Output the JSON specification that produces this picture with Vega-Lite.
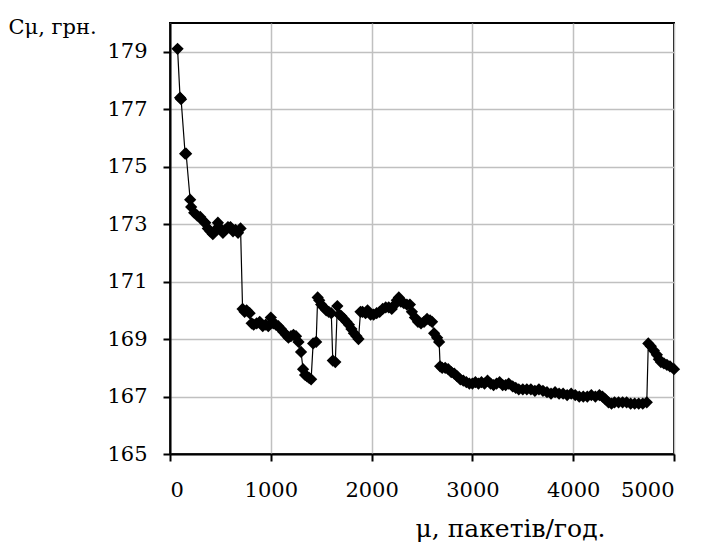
{
  "$schema": "https://vega.github.io/schema/vega-lite/v6.json",
  "width": 504,
  "height": 431,
  "autosize": "none",
  "padding": {"left": 170, "top": 23, "right": 29, "bottom": 95},
  "background": "white",
  "config": {
    "view": {"stroke": "black", "strokeWidth": 2},
    "font": "DejaVu Serif",
    "axis": {"labelFont": "DejaVu Serif", "titleFont": "DejaVu Serif"}
  },
  "data": {"values": [
    {"mu": 75, "C": 179.1}, {"mu": 100, "C": 177.4}, {"mu": 110, "C": 177.35}, {"mu": 150, "C": 175.45}, {"mu": 160, "C": 175.45},
    {"mu": 200, "C": 173.85}, {"mu": 210, "C": 173.6}, {"mu": 240, "C": 173.4}, {"mu": 270, "C": 173.3}, {"mu": 300, "C": 173.25},
    {"mu": 330, "C": 173.1}, {"mu": 350, "C": 173.05}, {"mu": 375, "C": 172.85}, {"mu": 400, "C": 172.75}, {"mu": 425, "C": 172.65},
    {"mu": 450, "C": 172.8}, {"mu": 475, "C": 173.05}, {"mu": 500, "C": 172.85}, {"mu": 525, "C": 172.7}, {"mu": 550, "C": 172.8},
    {"mu": 575, "C": 172.9}, {"mu": 600, "C": 172.9}, {"mu": 625, "C": 172.75}, {"mu": 650, "C": 172.8}, {"mu": 675, "C": 172.7},
    {"mu": 700, "C": 172.85}, {"mu": 720, "C": 170.05}, {"mu": 740, "C": 169.95}, {"mu": 760, "C": 170.0}, {"mu": 790, "C": 169.9},
    {"mu": 810, "C": 169.55}, {"mu": 830, "C": 169.5}, {"mu": 860, "C": 169.55}, {"mu": 890, "C": 169.6}, {"mu": 920, "C": 169.45},
    {"mu": 950, "C": 169.5}, {"mu": 975, "C": 169.45}, {"mu": 1000, "C": 169.75}, {"mu": 1025, "C": 169.55}, {"mu": 1050, "C": 169.5},
    {"mu": 1075, "C": 169.45}, {"mu": 1100, "C": 169.35}, {"mu": 1125, "C": 169.25}, {"mu": 1150, "C": 169.15}, {"mu": 1175, "C": 169.05},
    {"mu": 1200, "C": 169.1}, {"mu": 1225, "C": 169.15}, {"mu": 1250, "C": 169.1}, {"mu": 1275, "C": 168.9}, {"mu": 1300, "C": 168.55},
    {"mu": 1320, "C": 167.95}, {"mu": 1340, "C": 167.75}, {"mu": 1360, "C": 167.7}, {"mu": 1380, "C": 167.65}, {"mu": 1400, "C": 167.6},
    {"mu": 1420, "C": 168.85}, {"mu": 1450, "C": 168.9}, {"mu": 1465, "C": 170.45}, {"mu": 1480, "C": 170.35}, {"mu": 1500, "C": 170.2},
    {"mu": 1525, "C": 170.1}, {"mu": 1550, "C": 170.0}, {"mu": 1575, "C": 169.95}, {"mu": 1600, "C": 169.9}, {"mu": 1615, "C": 168.25},
    {"mu": 1640, "C": 168.2}, {"mu": 1660, "C": 170.15}, {"mu": 1680, "C": 169.85}, {"mu": 1700, "C": 169.8}, {"mu": 1725, "C": 169.7},
    {"mu": 1750, "C": 169.6}, {"mu": 1775, "C": 169.5}, {"mu": 1800, "C": 169.35}, {"mu": 1825, "C": 169.2}, {"mu": 1850, "C": 169.1},
    {"mu": 1870, "C": 169.0}, {"mu": 1890, "C": 169.95}, {"mu": 1910, "C": 169.95}, {"mu": 1940, "C": 169.9}, {"mu": 1960, "C": 170.0},
    {"mu": 1990, "C": 169.85}, {"mu": 2020, "C": 169.85}, {"mu": 2050, "C": 169.9}, {"mu": 2080, "C": 169.95}, {"mu": 2110, "C": 170.05},
    {"mu": 2140, "C": 170.1}, {"mu": 2170, "C": 170.1}, {"mu": 2200, "C": 170.05}, {"mu": 2230, "C": 170.2}, {"mu": 2250, "C": 170.35},
    {"mu": 2270, "C": 170.45}, {"mu": 2290, "C": 170.3}, {"mu": 2320, "C": 170.25}, {"mu": 2350, "C": 170.2}, {"mu": 2380, "C": 170.2},
    {"mu": 2400, "C": 169.95}, {"mu": 2430, "C": 169.75}, {"mu": 2460, "C": 169.6}, {"mu": 2490, "C": 169.55}, {"mu": 2520, "C": 169.6},
    {"mu": 2550, "C": 169.7}, {"mu": 2580, "C": 169.65}, {"mu": 2600, "C": 169.6}, {"mu": 2620, "C": 169.2}, {"mu": 2650, "C": 169.05},
    {"mu": 2670, "C": 168.9}, {"mu": 2680, "C": 168.05}, {"mu": 2700, "C": 168.0}, {"mu": 2730, "C": 168.0}, {"mu": 2760, "C": 167.95},
    {"mu": 2790, "C": 167.85}, {"mu": 2820, "C": 167.8}, {"mu": 2850, "C": 167.7}, {"mu": 2880, "C": 167.6}, {"mu": 2910, "C": 167.55},
    {"mu": 2940, "C": 167.5}, {"mu": 2970, "C": 167.45}, {"mu": 3000, "C": 167.45}, {"mu": 3030, "C": 167.5}, {"mu": 3060, "C": 167.45},
    {"mu": 3090, "C": 167.5}, {"mu": 3120, "C": 167.45}, {"mu": 3150, "C": 167.55}, {"mu": 3180, "C": 167.45}, {"mu": 3210, "C": 167.4},
    {"mu": 3240, "C": 167.45}, {"mu": 3270, "C": 167.5}, {"mu": 3300, "C": 167.4}, {"mu": 3330, "C": 167.4}, {"mu": 3360, "C": 167.45},
    {"mu": 3400, "C": 167.35}, {"mu": 3430, "C": 167.3}, {"mu": 3460, "C": 167.25}, {"mu": 3500, "C": 167.25}, {"mu": 3540, "C": 167.25},
    {"mu": 3580, "C": 167.25}, {"mu": 3620, "C": 167.2}, {"mu": 3660, "C": 167.25}, {"mu": 3700, "C": 167.2}, {"mu": 3740, "C": 167.15},
    {"mu": 3780, "C": 167.1}, {"mu": 3820, "C": 167.15}, {"mu": 3860, "C": 167.1}, {"mu": 3900, "C": 167.1}, {"mu": 3940, "C": 167.05},
    {"mu": 3980, "C": 167.1}, {"mu": 4020, "C": 167.05}, {"mu": 4060, "C": 167.0}, {"mu": 4100, "C": 167.0}, {"mu": 4140, "C": 167.0},
    {"mu": 4180, "C": 167.05}, {"mu": 4220, "C": 167.0}, {"mu": 4260, "C": 167.05}, {"mu": 4290, "C": 167.0}, {"mu": 4320, "C": 166.9},
    {"mu": 4350, "C": 166.8}, {"mu": 4380, "C": 166.75}, {"mu": 4410, "C": 166.8}, {"mu": 4450, "C": 166.8}, {"mu": 4490, "C": 166.8},
    {"mu": 4530, "C": 166.8}, {"mu": 4570, "C": 166.75}, {"mu": 4610, "C": 166.75}, {"mu": 4650, "C": 166.75}, {"mu": 4690, "C": 166.75},
    {"mu": 4730, "C": 166.8}, {"mu": 4745, "C": 168.85}, {"mu": 4770, "C": 168.75}, {"mu": 4800, "C": 168.6}, {"mu": 4830, "C": 168.45},
    {"mu": 4850, "C": 168.3}, {"mu": 4870, "C": 168.2}, {"mu": 4900, "C": 168.15}, {"mu": 4930, "C": 168.1}, {"mu": 4960, "C": 168.05},
    {"mu": 5000, "C": 167.95}
  ]},
  "encoding": {
    "x": {
      "field": "mu", "type": "quantitative",
      "scale": {"domain": [0, 5000], "nice": false, "zero": false},
      "axis": {
        "title": "μ, пакетів/год.",
        "values": [0, 1000, 2000, 3000, 4000, 5000],
        "format": "d",
        "grid": true, "gridColor": "#c0c0c0", "gridWidth": 1.5,
        "domainColor": "black", "domainWidth": 2,
        "tickColor": "black", "tickWidth": 2, "tickSize": 7,
        "labelFontSize": 21, "labelColor": "black", "labelPadding": 29, "labelBaseline": "middle",
        "titleFontSize": 25, "titleFontWeight": "normal", "titleColor": "black",
        "titleX": 340, "titleY": 82, "titleBaseline": "alphabetic", "titleAlign": "center"
      }
    },
    "y": {
      "field": "C", "type": "quantitative",
      "scale": {"domain": [165, 180], "nice": false, "zero": false},
      "axis": {
        "title": "Cμ, грн.",
        "values": [165, 167, 169, 171, 173, 175, 177, 179],
        "format": "d",
        "grid": true, "gridColor": "#c0c0c0", "gridWidth": 1.5,
        "domainColor": "black", "domainWidth": 2,
        "tickColor": "black", "tickWidth": 2, "tickSize": 7,
        "labelFontSize": 21, "labelColor": "black", "labelPadding": 16,
        "titleFontSize": 21, "titleFontWeight": "normal", "titleColor": "black",
        "titleAngle": 0, "titleX": -162, "titleY": 10, "titleAlign": "left", "titleBaseline": "alphabetic"
      }
    }
  },
  "layer": [
    {"mark": {"type": "line", "color": "black", "strokeWidth": 1.2}},
    {"mark": {"type": "point", "shape": "diamond", "filled": true, "color": "black", "opacity": 1, "size": 150}}
  ]
}
